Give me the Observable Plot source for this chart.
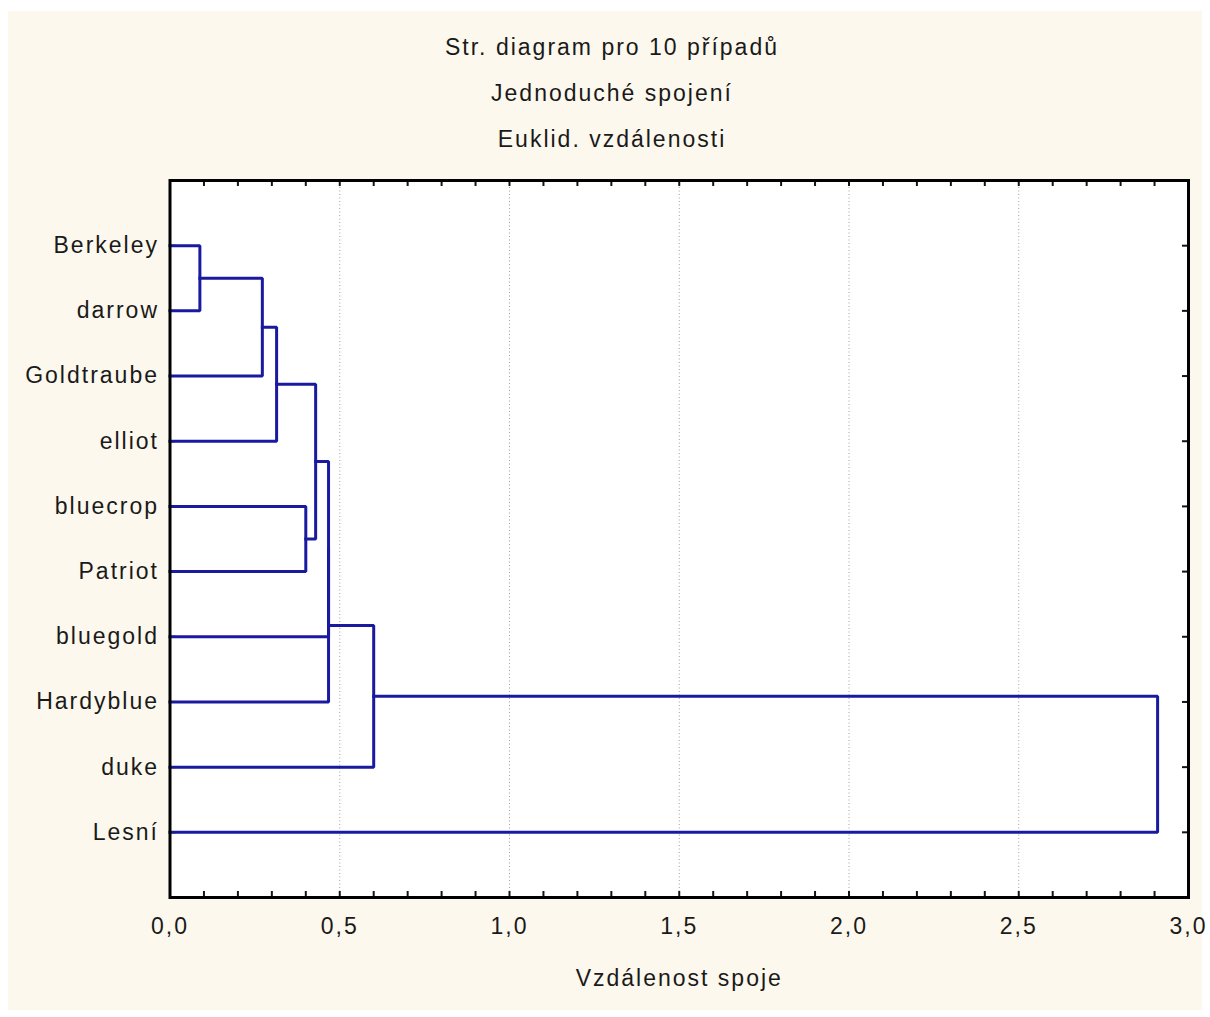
<!DOCTYPE html>
<html lang="cs">
<head>
<meta charset="utf-8">
<script src="https://cdn.jsdelivr.net/npm/d3@7"></script>
<script src="https://cdn.jsdelivr.net/npm/@observablehq/plot@0.6"></script>
<style>
  html, body { margin: 0; padding: 0; background: #fff; width: 1210px; height: 1017px; overflow: hidden; }
  #panel { position: absolute; left: 8px; top: 11px; width: 1194px; height: 999px; background: #fdf8ed; }
  .title { position: absolute; left: 104px; width: 1000px; text-align: center;
           font: 23px "Liberation Sans", Arial, sans-serif; letter-spacing: 2px;
           color: #1a1a1a; line-height: 46px; white-space: nowrap; }
  #chart { position: absolute; left: 0; top: 150px; }
  #chart svg { overflow: visible; }
</style>
</head>
<body>
<div id="panel">
  <div class="title" style="top:13px">Str. diagram pro 10 případů</div>
  <div class="title" style="top:59px">Jednoduché spojení</div>
  <div class="title" style="top:105px">Euklid. vzdálenosti</div>
  <div id="chart"></div>
</div>
<script>
// Leaves of the tree, top to bottom
const leaves = ["Berkeley", "darrow", "Goldtraube", "elliot", "bluecrop",
                "Patriot", "bluegold", "Hardyblue", "duke", "Lesní"];

// Single-linkage merges: [left child, right child, linkage distance]
const merges = [
  ["Berkeley", "darrow", 0.088],
  ["m1", "Goldtraube", 0.272],
  ["m2", "elliot", 0.314],
  ["bluecrop", "Patriot", 0.400],
  ["m3", "m4", 0.429],
  ["m5", "bluegold", 0.467],
  ["m6", "Hardyblue", 0.467],
  ["m7", "duke", 0.600],
  ["m8", "Lesní", 2.909]
];

// Axis ticks
const majorTicks = [0, 0.5, 1.0, 1.5, 2.0, 2.5, 3.0];
const gridTicks = [0.5, 1.0, 1.5, 2.0, 2.5];
const minorTicks = [0.1, 0.2, 0.3, 0.4, 0.5, 0.6, 0.7, 0.8, 0.9, 1.0,
                    1.1, 1.2, 1.3, 1.4, 1.5, 1.6, 1.7, 1.8, 1.9, 2.0,
                    2.1, 2.2, 2.3, 2.4, 2.5, 2.6, 2.7, 2.8, 2.9];
const xLabel = "Vzdálenost spoje";

// Node positions: leaves sit at their index, a merged node halfway between its children
const nodes = new Map(leaves.map((name, i) => [name, {pos: i, height: 0}]));
const elbows = [];
merges.forEach(([a, b, h], i) => {
  const id = "m" + (i + 1);
  const na = nodes.get(a), nb = nodes.get(b);
  elbows.push(
    {id, x: na.height, y: na.pos},
    {id, x: h, y: na.pos},
    {id, x: h, y: nb.pos},
    {id, x: nb.height, y: nb.pos}
  );
  nodes.set(id, {pos: (na.pos + nb.pos) / 2, height: h});
});
const leafIdx = leaves.map((_, i) => i);

const W = 1194, H = 849, ML = 161.5, MR = 14, MT = 19, MB = 113;
const frameW = W - ML - MR, frameH = H - MT - MB;
const tickLen = 6;
const ink = "#141414";

const chart = Plot.plot({
  width: W, height: H,
  marginLeft: ML, marginRight: MR, marginTop: MT, marginBottom: MB,
  style: {background: "transparent", fontFamily: "'Liberation Sans', Arial, sans-serif",
          fontSize: "23px", letterSpacing: "2px", color: "#1a1a1a", overflow: "visible"},
  x: {domain: [0, 3]},
  y: {domain: [-1, 10], reverse: true},
  marks: [
    Plot.frame({fill: "white"}),
    Plot.ruleX(gridTicks, {stroke: "#a0a0a0", strokeWidth: 1, strokeDasharray: "1,2.5"}),
    Plot.tickX(minorTicks, {x: d => d, insetTop: frameH - tickLen, stroke: ink, strokeWidth: 2}),
    Plot.tickX(minorTicks, {x: d => d, insetBottom: frameH - tickLen, stroke: ink, strokeWidth: 2}),
    Plot.tickY(leafIdx, {y: d => d, insetLeft: frameW - tickLen, stroke: ink, strokeWidth: 2}),
    Plot.tickY(leafIdx, {y: d => d, insetRight: frameW - tickLen, stroke: ink, strokeWidth: 2}),
    Plot.line(elbows, {x: "x", y: "y", z: "id", stroke: "#1a1aa0", strokeWidth: 3,
                       strokeLinejoin: "miter", strokeLinecap: "square"}),
    Plot.frame({stroke: "#000", strokeWidth: 3}),
    Plot.axisX({ticks: majorTicks, tickSize: 0, tickPadding: 20, label: null,
                tickFormat: d => d.toFixed(1).replace(".", ",")}),
    Plot.axisY({ticks: leafIdx, tickSize: 0, tickPadding: 11, label: null,
                tickFormat: i => leaves[i]}),
    Plot.text([xLabel], {frameAnchor: "bottom", dy: 88, text: d => d, fill: "#1a1a1a"})
  ]
});
document.getElementById("chart").appendChild(chart);
</script>
</body>
</html>
